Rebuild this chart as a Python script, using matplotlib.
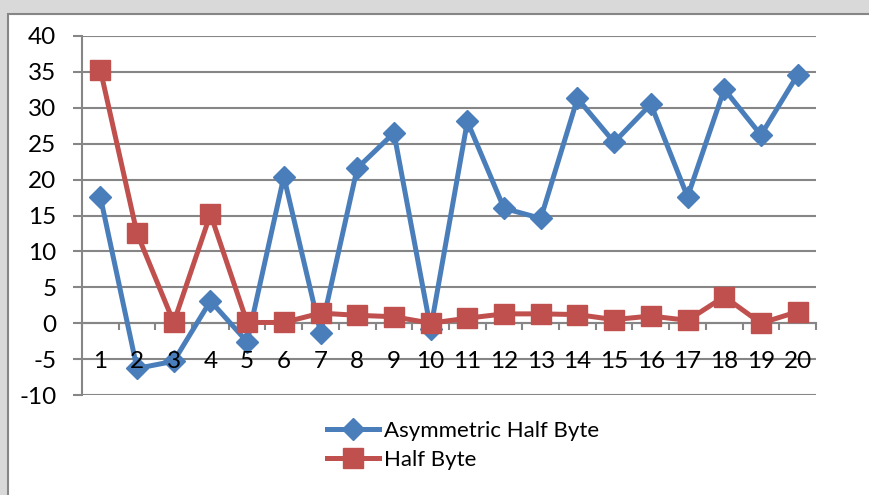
import matplotlib.pyplot as plt
from matplotlib.patches import Rectangle

plt.rcParams['font.family'] = ['Lato', 'DejaVu Sans']
plt.rcParams['axes.unicode_minus'] = False

categorias = list(range(1, 21))
asym_half_byte = [17.6, -6.3, -5.3, 3.1, -2.6, 20.4, -1.3, 21.6, 26.5, -0.8,
                  28.1, 16.0, 14.6, 31.3, 25.2, 30.5, 17.6, 32.6, 26.2, 34.6]
half_byte = [35.3, 12.5, 0.1, 15.2, 0.1, 0.1, 1.4, 1.1, 0.9, 0.0,
             0.7, 1.3, 1.3, 1.2, 0.5, 1.0, 0.4, 3.7, 0.0, 1.6]
yticks = list(range(-10, 41, 5))

azul = '#4A7EBB'
vermelho = '#C0504D'
cinza = '#868686'

fig = plt.figure(figsize=(8.7, 4.95), dpi=100)
fig.patch.set_facecolor('#D9D9D9')

# caixa branca do grafico
caixa = Rectangle((8 / 870, -0.05), 1.0, 1 - 14 / 495 + 0.05, transform=fig.transFigure,
                  facecolor='white', edgecolor=cinza, linewidth=1.5, zorder=-5)
fig.patches.append(caixa)

ax = fig.add_axes([82 / 870, 1 - 395 / 495, (816 - 82) / 870, (395 - 36) / 495])
ax.set_facecolor('none')

ax.plot(categorias, asym_half_byte, color=azul, lw=3.6, marker='D', ms=11,
        label='Asymmetric Half Byte', zorder=3)
ax.plot(categorias, half_byte, color=vermelho, lw=3.6, marker='s', ms=14,
        label='Half Byte', zorder=3)

ax.set_xlim(0.5, 20.5)
ax.set_ylim(-10, 40)

# eixo y e linhas de grade
ax.set_yticks(yticks)
ax.yaxis.grid(True, color=cinza, lw=1.5)
ax.set_axisbelow(True)
ax.tick_params(axis='y', length=6.5, width=1.5, color=cinza, direction='out',
               labelsize=17.5, pad=12)

# eixo x cruzando no zero
for s in ['top', 'right']:
    ax.spines[s].set_visible(False)
ax.spines['left'].set_color(cinza)
ax.spines['left'].set_linewidth(1.5)
ax.spines['bottom'].set_position(('data', 0))
ax.spines['bottom'].set_color(cinza)
ax.spines['bottom'].set_linewidth(1.5)
ax.set_xticks(categorias)
ax.set_xticklabels([])
ax.set_xticks([c + 0.5 for c in [0] + categorias], minor=True)
ax.tick_params(axis='x', which='major', length=0)
ax.tick_params(axis='x', which='minor', length=5, width=1.5, color=cinza, direction='out')

# rotulos das categorias por cima das linhas
for c in categorias:
    ax.annotate(str(c), xy=(c, 0), xytext=(0, -20), textcoords='offset points',
                ha='center', va='top', fontsize=17.5, zorder=6, annotation_clip=False)

fig.legend(loc='upper left', bbox_to_anchor=(327 / 870, 1 - 421 / 495), frameon=False,
           fontsize=16, handlelength=2.35, handletextpad=0.2, labelspacing=0.4,
           borderaxespad=0, borderpad=0)

fig.savefig('out.png', dpi=100, facecolor=fig.get_facecolor())
